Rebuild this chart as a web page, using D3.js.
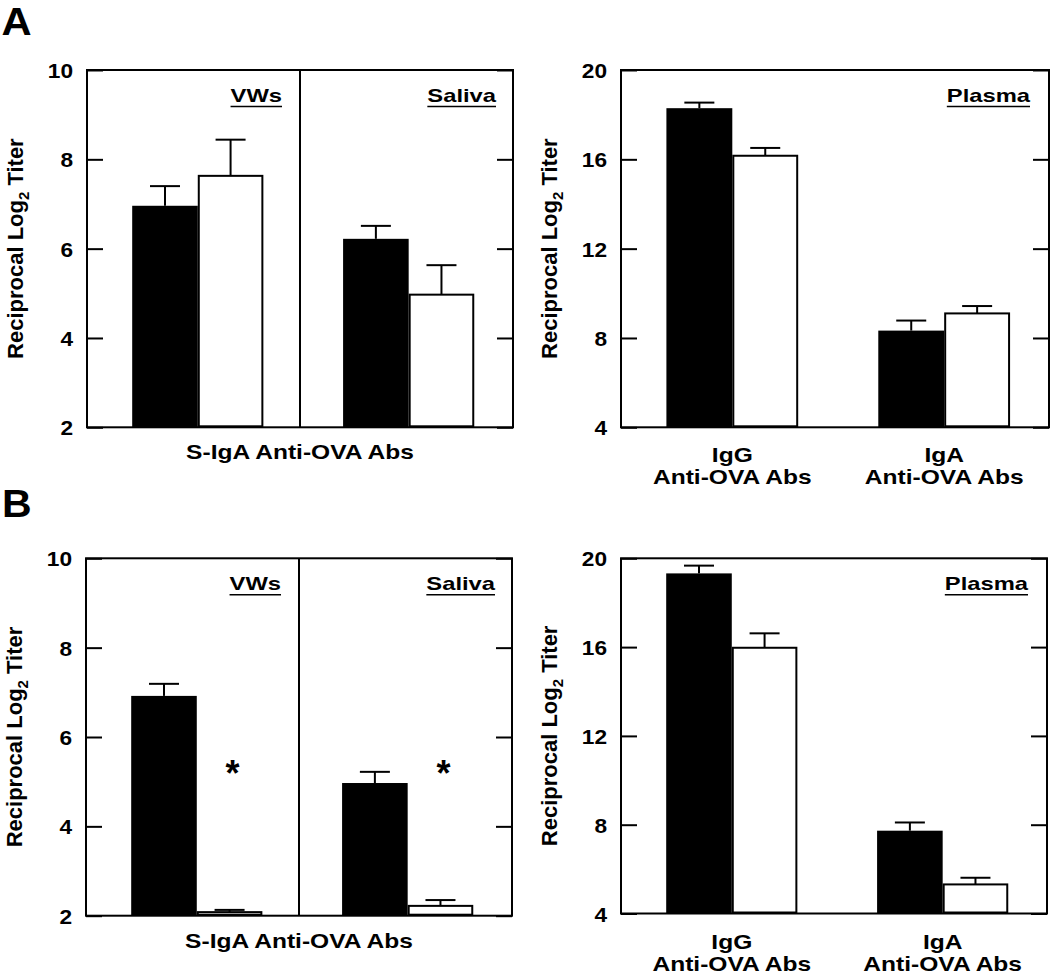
<!DOCTYPE html>
<html><head><meta charset="utf-8">
<script src="https://cdn.jsdelivr.net/npm/d3@7"></script>
<style>
body{margin:0;background:#fff}
svg{display:block}
text{font-family:"Liberation Sans",Arial,Helvetica,sans-serif;font-weight:bold;fill:#000}
</style>
</head><body>
<svg id="chart" width="1050" height="975"></svg>
<script>
// ---------- data ----------
const leftCategories = ["VWs", "Saliva"];
const rightCategories = ["IgG", "IgA"];
const rightCategoryLine2 = ["Anti-OVA Abs", "Anti-OVA Abs"];
const leftXLabel = "S-IgA Anti-OVA Abs";
const rightPanelTag = ["Plasma"];
const leftTicks = [2, 4, 6, 8, 10];
const rightTicks = [4, 8, 12, 16, 20];
const panelLetters = ["A", "B"];

// Panel A, left (S-IgA; VWs, Saliva)
const aLeftFilled = [6.96, 6.22];
const aLeftFilledErr = [0.44, 0.29];
const aLeftOpen = [7.63, 4.97];
const aLeftOpenErr = [0.81, 0.66];
// Panel A, right (Plasma; IgG, IgA)
const aRightFilled = [18.29, 8.33];
const aRightFilledErr = [0.25, 0.45];
const aRightOpen = [16.16, 9.10];
const aRightOpenErr = [0.35, 0.33];
// Panel B, left
const bLeftFilled = [6.92, 4.97];
const bLeftFilledErr = [0.27, 0.25];
const bLeftOpen = [2.08, 2.22];
const bLeftOpenErr = [0.05, 0.13];
const bLeftSignificant = [true, true];
const asteriskLevel = 5.37;
// Panel B, right
const bRightFilled = [19.32, 7.73];
const bRightFilledErr = [0.35, 0.37];
const bRightOpen = [15.97, 5.31];
const bRightOpenErr = [0.65, 0.30];

// ---------- layout ----------
const svg = d3.select("#chart");
const FONT_TICK = 21, SX_TICK = 1.08;
const FONT_TITLE = 22;
const FONT_TAG = 19, SX_TAG = 1.25;
const FONT_XL = 19.5, SX_XL = 1.26;

function hText(parent, x, y, txt, size, sx, anchor) {
  return parent.append("text")
    .attr("transform", `translate(${x},${y}) scale(${sx},1)`)
    .attr("text-anchor", anchor || "start")
    .style("font-size", size + "px").text(txt);
}

function drawPanel(cfg) {
  const { x0, y0, x1, y1, domain, ticks, cats } = cfg;
  const g = svg.append("g");
  const y = d3.scaleLinear().domain(domain).range([y1, y0]);
  const x = d3.scalePoint().domain(cats).range([x0, x1]).padding(0.51).align(0.515);
  const step = x.step();
  const barW = step * 0.311;

  // bars
  cats.forEach((c, i) => {
    const cx = x(c);
    const fv = cfg.filled[i], ov = cfg.open[i];
    g.append("rect").attr("x", cx - barW).attr("y", y(fv))
      .attr("width", barW).attr("height", y(domain[0]) - y(fv)).attr("fill", "#000");
    g.append("rect").attr("x", cx + 1).attr("y", y(ov))
      .attr("width", barW - 2).attr("height", y(domain[0]) - y(ov) - 1)
      .attr("fill", "#fff").attr("stroke", "#000").attr("stroke-width", 2);
    const errs = [[cx - barW / 2, fv, cfg.filledErr[i]], [cx + barW / 2, ov, cfg.openErr[i]]];
    errs.forEach(([ex, v, e]) => {
      g.append("line").attr("x1", ex).attr("x2", ex).attr("y1", y(v)).attr("y2", y(v + e))
        .attr("stroke", "#000").attr("stroke-width", 2);
      g.append("line").attr("x1", ex - 15).attr("x2", ex + 15).attr("y1", y(v + e)).attr("y2", y(v + e))
        .attr("stroke", "#000").attr("stroke-width", 2);
    });
    if (cfg.sig && cfg.sig[i]) {
      g.append("text").attr("x", cx + barW / 2 + 3).attr("y", y(asteriskLevel) + 0.57 * 36)
        .attr("text-anchor", "middle").style("font-size", "36px").text("*");
    }
  });

  // axes (inner ticks on both sides)
  const la = g.append("g").attr("transform", `translate(${x0},0)`)
    .call(d3.axisLeft(y).tickValues(ticks).tickSize(-16).tickSizeOuter(0).tickPadding(13));
  la.select(".domain").remove();
  la.selectAll("line").attr("stroke-width", 2);
  la.selectAll("text").style("font-size", FONT_TICK + "px").attr("dy", "0.36em")
    .attr("x", -14 / SX_TICK).attr("transform", `scale(${SX_TICK},1)`);
  const ra = g.append("g").attr("transform", `translate(${x1},0)`)
    .call(d3.axisRight(y).tickValues(ticks).tickSize(-16).tickSizeOuter(0).tickFormat(""));
  ra.select(".domain").remove();
  ra.selectAll("line").attr("stroke-width", 2);

  // frame
  g.append("rect").attr("x", x0).attr("y", y0).attr("width", x1 - x0).attr("height", y1 - y0)
    .attr("fill", "none").attr("stroke", "#000").attr("stroke-width", 2);

  // divider & tags
  const tagRights = [];
  if (cfg.divider) {
    const mx = (x0 + x1) / 2;
    g.append("line").attr("x1", mx).attr("x2", mx).attr("y1", y0).attr("y2", y1)
      .attr("stroke", "#000").attr("stroke-width", 2);
    tagRights.push([mx - 18, cats[0]], [x1 - 17, cats[1]]);
  } else {
    tagRights.push([x1 - 19, cfg.tag]);
  }
  tagRights.forEach(([rx, label]) => {
    const t = hText(g, rx, y0 + 31.5, label, FONT_TAG, SX_TAG, "end");
    const w = t.node().getComputedTextLength() * SX_TAG;
    g.append("line").attr("x1", rx - w).attr("x2", rx).attr("y1", y0 + 36.5).attr("y2", y0 + 36.5)
      .attr("stroke", "#000").attr("stroke-width", 1.6);
  });

  // y title
  const yt = g.append("text").attr("transform", `translate(${x0 - 64},${(y0 + y1) / 2}) rotate(-90)`)
    .attr("text-anchor", "middle").style("font-size", FONT_TITLE + "px");
  yt.append("tspan").text("Reciprocal Log");
  yt.append("tspan").attr("dy", 6).style("font-size", "15px").text("2");
  yt.append("tspan").attr("dy", -6).text(" Titer");

  // x labels
  if (cfg.divider) {
    hText(g, (x0 + x1) / 2, y1 + 32, leftXLabel, FONT_XL, SX_XL, "middle");
  } else {
    cats.forEach((c, i) => {
      hText(g, x(c), y1 + 35, c, FONT_XL, SX_XL, "middle");
      hText(g, x(c), y1 + 57, rightCategoryLine2[i], FONT_XL, SX_XL, "middle");
    });
  }
}

drawPanel({ x0: 87, y0: 70, x1: 513, y1: 427.3, domain: [2, 10], ticks: leftTicks, cats: leftCategories,
  filled: aLeftFilled, filledErr: aLeftFilledErr, open: aLeftOpen, openErr: aLeftOpenErr, divider: true });
drawPanel({ x0: 621, y0: 70, x1: 1049, y1: 427.3, domain: [4, 20], ticks: rightTicks, cats: rightCategories,
  filled: aRightFilled, filledErr: aRightFilledErr, open: aRightOpen, openErr: aRightOpenErr, tag: rightPanelTag[0] });
drawPanel({ x0: 86, y0: 558.3, x1: 512, y1: 915.7, domain: [2, 10], ticks: leftTicks, cats: leftCategories,
  filled: bLeftFilled, filledErr: bLeftFilledErr, open: bLeftOpen, openErr: bLeftOpenErr, divider: true, sig: bLeftSignificant });
drawPanel({ x0: 621, y0: 558.3, x1: 1047, y1: 913.5, domain: [4, 20], ticks: rightTicks, cats: rightCategories,
  filled: bRightFilled, filledErr: bRightFilledErr, open: bRightOpen, openErr: bRightOpenErr, tag: rightPanelTag[0] });

hText(svg, 1.5, 35, panelLetters[0], 39, 1.07, "start");
hText(svg, 2, 517, panelLetters[1], 38, 1.08, "start");
</script>
</body></html>
